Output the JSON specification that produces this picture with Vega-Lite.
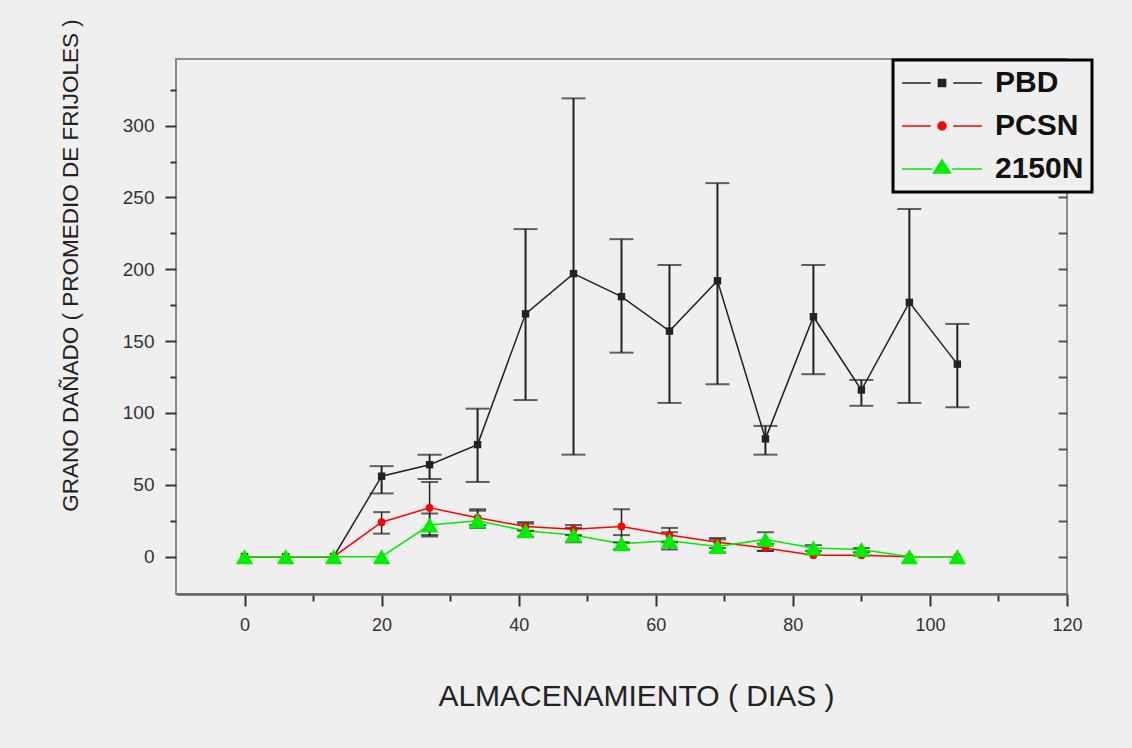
{
  "$schema": "https://vega.github.io/schema/vega-lite/v6.json",
  "width": 891,
  "height": 535,
  "autosize": {"type": "none"},
  "padding": {"left": 176, "top": 59, "right": 65, "bottom": 154},
  "background": "#efefef",
  "config": {
    "view": {"stroke": "#8c8c8c", "strokeWidth": 2},
    "font": "Liberation Sans",
    "axis": {"grid": false}
  },
  "data": {
    "values": [
      {"day": 0, "series": "PBD", "value": 0},
      {"day": 6, "series": "PBD", "value": 0},
      {"day": 13, "series": "PBD", "value": 0},
      {"day": 20, "series": "PBD", "value": 56, "lo": 44, "hi": 63},
      {"day": 27, "series": "PBD", "value": 64, "lo": 54, "hi": 71},
      {"day": 34, "series": "PBD", "value": 78, "lo": 52, "hi": 103},
      {"day": 41, "series": "PBD", "value": 169, "lo": 109, "hi": 228},
      {"day": 48, "series": "PBD", "value": 197, "lo": 71, "hi": 319},
      {"day": 55, "series": "PBD", "value": 181, "lo": 142, "hi": 221},
      {"day": 62, "series": "PBD", "value": 157, "lo": 107, "hi": 203},
      {"day": 69, "series": "PBD", "value": 192, "lo": 120, "hi": 260},
      {"day": 76, "series": "PBD", "value": 82, "lo": 71, "hi": 91},
      {"day": 83, "series": "PBD", "value": 167, "lo": 127, "hi": 203},
      {"day": 90, "series": "PBD", "value": 116, "lo": 105, "hi": 123},
      {"day": 97, "series": "PBD", "value": 177, "lo": 107, "hi": 242},
      {"day": 104, "series": "PBD", "value": 134, "lo": 104, "hi": 162},
      {"day": 0, "series": "PCSN", "value": 0},
      {"day": 6, "series": "PCSN", "value": 0},
      {"day": 13, "series": "PCSN", "value": 0},
      {"day": 20, "series": "PCSN", "value": 24, "lo": 16, "hi": 31},
      {"day": 27, "series": "PCSN", "value": 34, "lo": 15, "hi": 52},
      {"day": 34, "series": "PCSN", "value": 27, "lo": 22, "hi": 32},
      {"day": 41, "series": "PCSN", "value": 21, "lo": 18, "hi": 24},
      {"day": 48, "series": "PCSN", "value": 19, "lo": 15, "hi": 22},
      {"day": 55, "series": "PCSN", "value": 21, "lo": 10, "hi": 33},
      {"day": 62, "series": "PCSN", "value": 15, "lo": 10, "hi": 20},
      {"day": 69, "series": "PCSN", "value": 10, "lo": 6, "hi": 13},
      {"day": 76, "series": "PCSN", "value": 6, "lo": 4, "hi": 9},
      {"day": 83, "series": "PCSN", "value": 1},
      {"day": 90, "series": "PCSN", "value": 1},
      {"day": 97, "series": "PCSN", "value": 0},
      {"day": 104, "series": "PCSN", "value": 0},
      {"day": 0, "series": "2150N", "value": 0},
      {"day": 6, "series": "2150N", "value": 0},
      {"day": 13, "series": "2150N", "value": 0},
      {"day": 20, "series": "2150N", "value": 0},
      {"day": 27, "series": "2150N", "value": 22, "lo": 14, "hi": 30},
      {"day": 34, "series": "2150N", "value": 25, "lo": 20, "hi": 33},
      {"day": 41, "series": "2150N", "value": 18, "lo": 14, "hi": 23},
      {"day": 48, "series": "2150N", "value": 15, "lo": 10, "hi": 20},
      {"day": 55, "series": "2150N", "value": 9, "lo": 5, "hi": 15},
      {"day": 62, "series": "2150N", "value": 11, "lo": 5, "hi": 17},
      {"day": 69, "series": "2150N", "value": 7, "lo": 3, "hi": 12},
      {"day": 76, "series": "2150N", "value": 12, "lo": 4, "hi": 17},
      {"day": 83, "series": "2150N", "value": 6, "lo": 4, "hi": 8},
      {"day": 90, "series": "2150N", "value": 5, "lo": 3, "hi": 6},
      {"day": 97, "series": "2150N", "value": 0},
      {"day": 104, "series": "2150N", "value": 0}
    ]
  },
  "encoding": {
    "x": {
      "field": "day",
      "type": "quantitative",
      "scale": {"domain": [-10, 120], "nice": false, "zero": false},
      "axis": {
        "title": "ALMACENAMIENTO ( DIAS )",
        "values": [0, 10, 20, 30, 40, 50, 60, 70, 80, 90, 100, 110, 120],
        "labelExpr": "datum.value % 20 === 0 ? datum.label : ''",
        "tickSize": {"condition": {"test": "datum.value % 20 !== 0", "value": 7}, "value": 12},
        "tickColor": "#333333",
        "tickWidth": 2,
        "domainColor": "#666666",
        "domainWidth": 2.5,
        "labelFontSize": 18,
        "labelColor": "#333333",
        "labelPadding": 10,
        "labelFlush": false,
        "titleFontSize": 30,
        "titleFontWeight": "normal",
        "titleColor": "#222222",
        "titleX": 460,
        "titleY": 111,
        "titleBaseline": "alphabetic"
      }
    }
  },
  "layer": [
    {
      "mark": {"type": "line", "strokeWidth": 1.5},
      "encoding": {
        "y": {
          "field": "value",
          "type": "quantitative",
          "scale": {"domain": [-26, 346.4], "nice": false, "zero": false},
          "axis": {
            "title": "GRANO DAÑADO ( PROMEDIO DE FRIJOLES )",
            "values": [0, 25, 50, 75, 100, 125, 150, 175, 200, 225, 250, 275, 300, 325],
            "labelExpr": "datum.value % 50 === 0 ? datum.label : ''",
            "tickSize": {"condition": {"test": "datum.value % 50 !== 0", "value": 6}, "value": 11},
            "tickColor": "#333333",
            "tickWidth": 2,
            "domain": false,
            "labelFontSize": 19,
            "labelColor": "#333333",
            "labelPadding": 11,
            "titleFont": "Liberation Sans",
            "titleFontSize": 22.5,
            "titleFontWeight": "normal",
            "titleColor": "#222222",
            "titleX": -99,
            "titleY": 206,
            "titleBaseline": "alphabetic",
            "titleAngle": 270
          }
        },
        "color": {
          "field": "series",
          "type": "nominal",
          "scale": {"domain": ["PBD", "PCSN", "2150N"], "range": ["#222222", "#ff0000", "#00ee00"]},
          "legend": {
            "orient": "none",
            "legendX": 717,
            "legendY": 1,
            "title": null,
            "symbolSize": 6400,
            "symbolOffset": 0,
            "symbolStrokeWidth": 1.5,
            "clipHeight": 30,
            "symbolType": {"expr": "datum.value === 'PBD' ? 'M-1,0H-0.28M0.28,0H1M-0.09,-0.09H0.09V0.09H-0.09Z' : datum.value === 'PCSN' ? 'M-1,0H-0.28M0.28,0H1M-0.1,0A0.1,0.1,0,1,0,0.1,0A0.1,0.1,0,1,0,-0.1,0Z' : 'M-1,0H-0.25M0.25,0H1M-0.21,0.1L0,-0.23L0.21,0.1Z'"},
            "symbolFillColor": {"expr": "datum.value === 'PBD' ? '#222222' : datum.value === 'PCSN' ? '#ff0000' : '#00ee00'"},
            "labelFontSize": 30,
            "labelFontWeight": "bold",
            "labelFont": "Liberation Sans",
            "labelColor": "#111111",
            "labelOffset": 12,
            "padding": 8,
            "rowPadding": 13,
            "strokeColor": "#000000",
            "fillColor": "#efefef",
            "encode": {
              "legend": {"update": {"strokeWidth": {"value": 3}}},
              "symbols": {
                "update": {
                  "fill": {"signal": "datum.value === 'PBD' ? '#222222' : datum.value === 'PCSN' ? '#ff0000' : '#00ee00'"},
                  "opacity": {"value": 1}
                }
              }
            }
          }
        }
      }
    },
    {
      "transform": [{"filter": "datum.series === 'PBD' && isValid(datum.lo)"}],
      "mark": {"type": "errorbar", "color": "#222222", "rule": {"strokeWidth": 2}, "ticks": {"size": 24, "thickness": 2}},
      "encoding": {
        "y": {"field": "lo", "type": "quantitative", "scale": {"domain": [-26, 346.4], "nice": false, "zero": false}, "axis": null},
        "y2": {"field": "hi"}
      }
    },
    {
      "transform": [{"filter": "datum.series !== 'PBD' && isValid(datum.lo)"}],
      "mark": {"type": "errorbar", "color": "#222222", "rule": {"strokeWidth": 1.5}, "ticks": {"size": 17, "thickness": 2}},
      "encoding": {
        "y": {"field": "lo", "type": "quantitative", "scale": {"domain": [-26, 346.4], "nice": false, "zero": false}, "axis": null},
        "y2": {"field": "hi"}
      }
    },
    {
      "transform": [{"filter": "datum.series === 'PBD'"}],
      "mark": {"type": "point", "filled": true, "opacity": 1, "shape": "square", "size": 55, "color": "#222222"},
      "encoding": {
        "y": {"field": "value", "type": "quantitative", "scale": {"domain": [-26, 346.4], "nice": false, "zero": false}, "axis": null}
      }
    },
    {
      "transform": [{"filter": "datum.series === 'PCSN'"}],
      "mark": {"type": "point", "filled": true, "opacity": 1, "shape": "circle", "size": 60, "color": "#ff0000"},
      "encoding": {
        "y": {"field": "value", "type": "quantitative", "scale": {"domain": [-26, 346.4], "nice": false, "zero": false}, "axis": null}
      }
    },
    {
      "transform": [{"filter": "datum.series === '2150N'"}],
      "mark": {"type": "point", "filled": true, "opacity": 1, "shape": "triangle-up", "size": 300, "color": "#00ee00"},
      "encoding": {
        "y": {
          "field": "value",
          "type": "quantitative",
          "scale": {"domain": [-26, 346.4], "nice": false, "zero": false},
          "axis": {
            "orient": "right",
            "title": null,
            "labels": false,
            "domain": false,
            "values": [0, 25, 50, 75, 100, 125, 150, 175, 200, 225, 250, 275, 300, 325],
            "tickSize": -9,
            "tickColor": "#555555",
            "tickWidth": 2
          }
        }
      }
    }
  ],
  "resolve": {"axis": {"y": "independent"}}
}
